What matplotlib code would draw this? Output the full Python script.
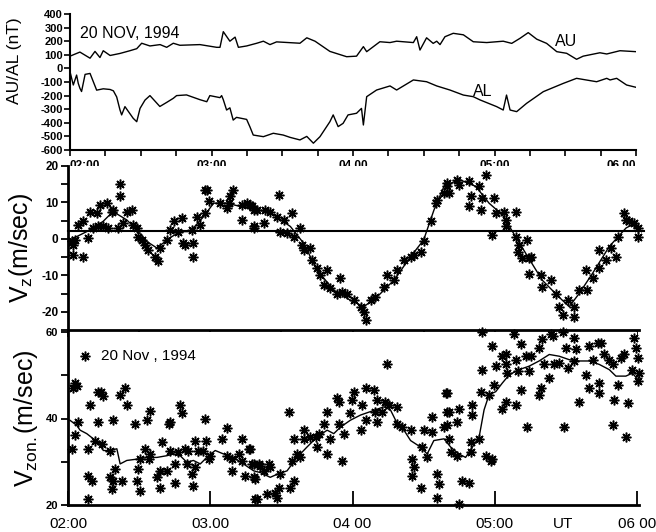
import matplotlib
matplotlib.use("Agg")
import matplotlib.pyplot as plt
from matplotlib.ticker import MultipleLocator

plt.rcParams["font.family"] = ["Liberation Sans", "DejaVu Sans"]
plt.rcParams["mathtext.fontset"] = "custom"
plt.rcParams["mathtext.rm"] = "Liberation Sans"
plt.rcParams["mathtext.it"] = "Liberation Sans:italic"
plt.rcParams["mathtext.bf"] = "Liberation Sans:bold"

# time axis: minutes after 02:00 UT
HOUR_TICKS = [0, 60, 120, 180, 240]

# ---- AU / AL (nT) ----
AU_T = [0, 4.2, 8.5, 10.6, 12.7, 14.1, 17, 21.2, 25.4, 28.3, 30.4, 33.9, 38.2, 41, 43.8, 46.6,
        55.1, 62.2, 63.6, 65, 67.8, 70, 71.4, 74.9, 79.2, 82, 84.8, 87.6, 97.5, 100.4, 103.9,
        110.2, 117.3, 121.5, 124.4, 125.8, 131.4, 135.7, 138.5, 145.6, 147, 148.4, 151.2, 154,
        155.5, 156.9, 159, 162.5, 166.8, 171, 176.7, 183.7, 187.3, 190.8, 194.3, 197.9, 202.1,
        206.4, 210.6, 214.8, 217.6, 224.7, 227.6, 233.2, 240]
AU_V = [90, 120, 75, 125, 80, 130, 95, 110, 130, 145, 185, 165, 175, 155, 185, 170,
        175, 155, 155, 270, 200, 230, 155, 165, 185, 200, 175, 195, 185, 225, 200,
        125, 86, 90, 160, 123, 196, 190, 200, 190, 233, 135, 225, 184,
        200, 175, 233, 258, 247, 196, 190, 200, 184, 221, 263, 215, 184,
        123, 111, 67, 90, 115, 106, 130, 123]

AL_T = [0, 1.4, 2.8, 3.5, 4.2, 4.9, 6.4, 8.5, 11.3, 14.1, 17, 18.4, 19.8, 21.2, 21.9, 23.3,
        26.8, 28.3, 29.7, 31.8, 33.9, 38.1, 41, 43.8, 45.2, 49.4, 55.1, 58, 59.3, 63.6, 64.3,
        65, 66.4, 67.8, 69.2, 70.6, 74.9, 76.3, 77.7, 82, 86.2, 90.4, 93.3, 97.5, 100.4,
        103.2, 106, 110.2, 111.6, 113.7, 115.8, 117.9, 121.5, 123.6, 124.4, 125.8, 130,
        135.7, 138.5, 145.6, 151.2, 155.5, 161.1, 166.8, 171, 173.9, 180.9, 183.7, 185.1,
        186.6, 189.4, 193.6, 200.7, 209.2, 214.8, 223.3, 227.6, 229, 231.8, 236, 240]
AL_V = [-24, -122, -49, -110, -146, -170, -44, -37, -160, -150, -155, -165, -210, -306, -342, -281,
        -367, -392, -294, -233, -200, -280, -250, -220, -200, -195, -230, -245, -200, -215, -200,
        -230, -306, -290, -380, -360, -375, -430, -490, -502, -477, -490, -507, -526, -500,
        -550, -502, -392, -342, -428, -404, -342, -330, -294, -416, -208, -159,
        -129, -159, -85, -98, -129, -159, -196, -208, -232, -281, -306, -196,
        -306, -318, -257, -171, -110, -73, -98, -73, -85, -73, -122, -139]

# ---- Vz (m/sec): measurements and smoothed curve ----
VZ_PTS_T = [1.5, 2.3, 3, 2.3, 4.4, 6.5, 6.5, 8.6, 9.3, 10.7, 12.1, 13.5, 12.8, 14.9, 16.3, 17,
            18.4, 19.1, 21.3, 22, 22, 23.4, 24.8, 26.9, 27.6, 29, 29.7, 31.1, 32.5, 33.9, 36.7,
            38.1, 38.9, 41.7, 43.1, 44.5, 46.6, 48, 48.7, 49.4, 52.9, 52.9, 52.2, 54.3, 55.8,
            57.9, 57.9, 59.3, 58.6, 64.2, 67, 68.4, 69.8, 67.7, 73.4, 73.4, 75.5, 77.6, 78.3,
            79.7, 76.9, 78.3, 78.3, 82.5, 83.2, 85.3, 88.9, 88.2, 89.6, 91, 92.4, 94.5, 95.2,
            98, 98.7, 99.4, 102.2, 102.9, 105.1, 106.5, 107.9, 109.3, 110.7, 113.5, 114.9,
            115.6, 117.7, 120.5, 123.4, 125.5, 124.8, 127.6, 129.7, 133.2, 134.6, 137.4,
            138.9, 141.7, 144.5, 145.9, 148.7, 150.1, 152.9, 155.3, 155.7, 158.6, 159.9,
            160, 160.7, 164.2, 164.9, 169.2, 169.9, 169.2, 173.4, 174.1, 174.8, 176.2, 179.7,
            180.4, 183.9, 184.6, 184.6, 188.9, 179, 188.9, 190.3, 193.8, 189.6, 191.7, 194.5,
            195.2, 194.5, 199.4, 200.1, 203.6, 205.8, 207.2, 208.6, 210.7, 213.5, 213.5, 215.6,
            218.4, 219.1, 221.3, 224.1, 224.1, 226.9, 229, 231.1, 231.8, 234.6, 235.3, 236.7,
            238.9, 240.3, 240.3]
VZ_PTS_V = [-0.7, -1.7, -0.3, -4.4, 3.9, 4.8, -4.9, 0.2, 7.5, 2.9, 7.1, 9.4, 3.4, 3.4, 9.8, 2.9,
            7.5, 8, 2.9, 11.7, 15.1, 4.3, 7.5, 8, 3.9, 2.9, 0.6, -0.3, -1.7, -3, -4.9,
            -6.2, -2.6, -0.3, 2.5, 4.8, 2, 5.7, -1.2, -1.7, -1.2, -5, 2.5, 6.1, 3.9,
            7.1, 13.5, 10.3, 13.5, 9.8, 8.4, 11.7, 13.5, 9.8, 5.2, 9.4, 9.8, 8.9, 3.4,
            8, 9.4, 8, 2.9, 4.3, 8, 7.5, 12.1, 6.1, 2, 5.2, 1.6, 7.1, 0.6,
            2.9, -1.7, -3, -2.6, -5.8, -8.1, -9.9, -12.7, -8.5, -13.6, -15, -10.8,
            -14.5, -15, -16.8, -18.6, -22.3, -20, -16.8, -15.9, -13.1, -9.9, -11.3,
            -8.5, -5.8, -4.9, -4.4, -3.5, -0.7, 4.8, 9.8, 10.7, 12.6, 15.3,
            14.4, 12.6, 16.2, 14.9, 15.8, 11.7, 8.9, 14.4, 8, 11.2, 17.6, 11.2,
            7.1, 7.5, 5.2, 3.4, 7.5, 1.1, 0.6, -1.7, -0.3, -3.5, -5.3, -5.3,
            -4.9, -9.5, -9.9, -13.1, -11.3, -15, -18.6, -20.9, -16.8, -18.6, -21.4, -14,
            -8.5, -14, -10.8, -3, -8.1, -5.8, -2.6, -4.9, 0.6, 7.1, 5.2, 4.8,
            4.3, 0.6, 2.9]
VZ_FIT_T = [0.8, 7.9, 14.8, 19, 24.8, 29, 33.2, 37.5, 43, 47.3, 51.5, 57.2, 61.4, 67, 72.7, 79.7,
            85.4, 93.8, 99.4, 105, 112, 119, 124.8, 130.4, 137.5, 144.5, 150, 154.4, 158.6, 165,
            172, 177.6, 183.2, 187.5, 193, 200, 207, 211.4, 215.6, 221.3, 228.3, 235.4, 238, 240.8]
VZ_FIT_V = [-0.3, 2.0, 4.8, 7.5, 5.2, 2.5, -0.7, -2.5, 0.3, 2, 2, 6.1, 9.8, 9.8, 8.9, 8,
            7.2, 3.4, -1.2, -8.5, -14, -16.8, -18.6, -15.9, -11.3, -4.9, -0.3, 8, 14.4, 16.3,
            14.4, 9.8, 6.6, 2, -3.9, -11.3, -15.9, -18.6, -15, -9.4, -2.1, 3, 3.9, 2.5]
VZ_REF = 2.2

# ---- Vzon (m/sec): measurements and smoothed curve ----
VZON_PTS_T = [7.2, 2.3, 3, 3.7, 1.5, 3, 4.4, 8.6, 10, 8.6, 8.6, 9.3, 12.7, 12.7, 14.1, 14.9,
              11.4, 14.2, 17.7, 17.7, 18.4, 19.1, 19.9, 19.1, 22, 24.1, 24.8, 22.7, 28.3, 29,
              29.7, 30.4, 30.4, 32.5, 33.2, 34.4, 34, 34.7, 37.5, 38.9, 39.6, 38.9, 41.7, 42.4,
              43.1, 43.1, 45.2, 45.2, 46.6, 47.3, 48, 49.4, 50.8, 50.1, 52.2, 52.9, 53.6, 53.6,
              55, 57.1, 57.9, 58.3, 59.3, 60, 64.9, 67, 67, 69.1, 69.1, 73.4, 72, 73.4, 74.8,
              76.2, 78.3, 79, 79.7, 80.4,
              76.9, 77.6, 78.3, 79, 81.1, 82.5, 84, 84.6, 85.3, 87.5, 88.9, 88.2, 89.6, 93.1,
              93.8, 95.2, 94.5, 95.2, 96.6, 98, 99.4, 99.4, 102.2, 104.4, 105.8, 105.1, 107.9,
              109.3, 109.3, 110.7, 113.5, 114.2, 114.2, 115.6, 116.3, 119.1, 119.8, 120.5,
              123.4, 124.1, 125.5, 125.5, 129, 130.4, 130.4, 129.7, 132.5, 134.6, 135.3, 133.9,
              138.9, 138.9, 141, 144.5, 145.2, 145.9, 145.2, 148.7, 149.4, 150.1, 151.5, 153.6,
              153.6, 155.7, 156.4, 155.7, 158.6, 159.3, 160,
              160, 160.7, 164.2, 164.9, 160.7, 161.4, 164.2, 164.9, 166.3, 169.2, 169.9, 169.9,
              170.6, 170.6, 173.4, 174.1, 174.8, 176.2, 178.3, 177.6, 179, 179.7, 180.4, 183.2,
              184.6, 184.6, 183.2, 184.6, 185.3, 188.2, 188.9, 188.9, 189.6, 191, 191, 193.1,
              193.8, 194.5, 195.2, 198.7, 199.4, 198.7, 200.1, 200.8, 203, 203.7, 204.4, 205.1,
              207.2, 208.6, 209.3, 210, 210.7, 213.5, 214.2, 213.5, 215.6, 218.4, 219.8, 219.8,
              221.3, 223.4, 224.1, 224.1, 224.8, 226.2, 228.3, 229.7, 229.7, 230.4, 231.8,
              233.2, 234.6, 235.3, 236, 238.1, 238.8, 239.6, 240.3, 240.3, 241, 160, 174.8, 179]
VZON_PTS_V = [54.4, 47, 48.2, 47.4, 33, 36.1, 39.2, 26.7, 25.6, 21.3, 33, 43.1, 39.2, 46.2, 46.2, 45.1,
              34.9, 34.1, 32.6, 26.4, 23.6, 39.6, 28.3, 25.6, 45.5, 47, 43.1, 25.6, 38.8, 25.6,
              28.3, 23.2, 30.6, 33, 39.6, 41.8, 30.6, 31.8, 26.4, 27.9, 34.5, 24, 27.9, 38.8,
              39.2, 32.6, 25.2, 29.5, 32.2, 43.1, 41.2, 33, 32.6, 29.5, 27.1, 24.4, 34.9, 28.7,
              32.6, 32.6, 40, 34.9, 30.6, 31.4, 35.3, 37.7, 31.4, 30.6, 27.9, 35.3, 31.8, 30.2, 26.7,
              33, 29.5, 26, 21.3, 29.5,
              33, 29.5, 26.4, 21.3, 29.1, 27.9, 22.5, 29.5, 28.7, 22.8, 24, 21.7, 27.1, 41.6,
              24, 25.6, 30.2, 35.3, 31.8, 31, 35.3, 37.3, 35.7, 35.7, 36.5, 33.4, 38.8,
              31.8, 41.6, 35.3, 44.7, 43.9, 38.8, 30.2, 36.5, 41.2, 44.3, 46.2,
              37.3, 43.1, 39.6, 47, 46.6, 44.3, 39.2, 41.6, 41.6, 52.5, 43.1, 43.9,
              42.7, 38.8, 38, 37.3, 30.6, 28.7, 26.7, 24, 33.4, 37.3, 31, 40.4,
              36.9, 27.1, 24.8, 21.7, 38, 45.9, 41.6,
              45.9, 41.6, 39.2, 42.3, 35.3, 32.2, 31.4, 20.2, 25.6, 25.2, 32.2, 34.5,
              40.8, 43.1, 35.3, 46.2, 51.3, 31.4, 30.2, 45.5, 56.8, 47.8, 52.1, 54.4,
              54.8, 52.5, 42.3, 43.9, 50.5, 59.5, 43.1, 53.6, 50.9, 57.2, 46.6, 54.4,
              38, 50.9, 54.4, 45.5, 47, 56.4, 58.3, 52.5, 49.4, 59.5, 59.1, 52.5,
              52.9, 60, 38, 56.4, 51.7, 58.7, 56, 53.3, 43.9, 50.1, 47, 56.8,
              53.6, 57.5, 48.2, 45.9, 57.5, 54.8, 53.6, 52.5, 38.4, 44.3, 47.8,
              54, 54.8, 35.7, 43.5, 51.3, 58.7, 56.4, 54, 48.6, 50.5, 38.4, 60, 30.6]
VZON_FIT_T = [0.8, 3.7, 5.1, 7.9, 10.7, 12.8, 14.9, 17.7, 20.6, 22, 24.8, 29, 33.2, 37.5, 41.7,
              44.5, 47.3, 50.1, 52.9, 55.8, 59.3, 62.1, 65.6, 69.8, 74, 78.3, 81.1, 85.3, 88.2,
              92.4, 96.6, 100.8, 105, 109.3, 112.1, 114.9, 119.1, 123.4, 127.6, 133.2, 136,
              138.9, 141.7, 144.5, 148.7, 151.5, 154.3, 158.6, 161.4, 164.9, 167.7, 170.6,
              173.4, 175.5, 177.6, 180.4, 183.2, 186.1, 190.3, 194.5, 198.7, 203, 207.2, 211.4,
              215.6, 219.8, 224.1, 228.3, 231.1, 235.3, 238.1, 240.9]
VZON_FIT_V = [39.6, 38.4, 37.3, 36.5, 35.3, 34.5, 32.6, 32.6, 33, 29.5, 30.3, 30.6, 31, 31, 31.4,
              31.8, 31.4, 29.9, 30.3, 29.5, 31.4, 32.6, 31.8, 31, 29.5, 27.9, 27.5, 26.4, 27.1,
              27.9, 31, 33.4, 35.7, 37.3, 36.5, 38, 39.6, 40.8, 41.6, 42.7, 42,
              38.8, 37.3, 34.9, 33.4, 31.8, 34.9, 35.3, 33.4, 31.8, 31, 33.4,
              35.7, 42, 45.5, 46.2, 48.2, 50.1, 51.3, 52.1, 53.3, 54.8, 54.4, 53.6,
              53.3, 53.3, 52.5, 51.3, 49.8, 49.8, 50.5, 48.6]

TOP_XLABELS = ["02:00", "03:00", "04.00", "05:00", "06.00"]
TOP_XALIGN = ["left", "center", "center", "center", "right"]
BOT_XLABELS = ["02:00", "03.00", "04 00", "05:00", "06 00"]

W, H = 656, 532
STAR = dict(marker=(8, 2, 0), ms=7, mew=1.1, color="black", ls="none", clip_on=False)


def ax_px(fig, x0, y0, x1, y1):
    # axes box from pixel coords (top-left origin)
    return fig.add_axes([x0 / W, 1 - y1 / H, (x1 - x0) / W, (y1 - y0) / H])


fig = plt.figure(figsize=(W / 100, H / 100), dpi=100)

# ---------------- panel 1: AU / AL ----------------
ax1 = ax_px(fig, 70, 14, 636, 150)
ax1.plot(AU_T, AU_V, color="black", lw=1.0)
ax1.plot(AL_T, AL_V, color="black", lw=1.0)
ax1.set_xlim(0, 240)
ax1.set_ylim(-600, 400)
ax1.set_yticks(range(-600, 401, 100))
ax1.set_yticklabels([str(v) for v in range(-600, 401, 100)], fontsize=8, fontweight="bold")
ax1.xaxis.set_minor_locator(MultipleLocator(15))
ax1.set_xticks(HOUR_TICKS)
ax1.set_xticklabels(TOP_XLABELS, fontsize=8.5, fontweight="bold")
for lab, ha in zip(ax1.get_xticklabels(), TOP_XALIGN):
    lab.set_horizontalalignment(ha)
ax1.tick_params(axis="both", which="both", direction="out", length=4, width=1.2, pad=1)
ax1.tick_params(axis="x", pad=3)
for s in ("top", "right"):
    ax1.spines[s].set_visible(False)
for s in ("left", "bottom"):
    ax1.spines[s].set_linewidth(1.5)
ax1.set_ylabel("AU/AL (nT)", fontsize=12.5)
ax1.yaxis.set_label_coords(-0.085, 0.66)
ax1.text(0.017, 0.86, "20 NOV, 1994", transform=ax1.transAxes, fontsize=11.5, va="center")
ax1.text(0.857, 0.8, "AU", transform=ax1.transAxes, fontsize=11.5, va="center")
ax1.text(0.712, 0.43, "AL", transform=ax1.transAxes, fontsize=11.5, va="center")

# ---------------- panel 2: Vz ----------------
ax2 = ax_px(fig, 68, 166, 637, 330)
ax2.plot(VZ_PTS_T, VZ_PTS_V, **STAR)
ax2.plot(VZ_FIT_T, VZ_FIT_V, color="black", lw=1.0, clip_on=False)
ax2.plot([0, 243], [VZ_REF, VZ_REF], color="black", lw=1.5, clip_on=False)
ax2.set_xlim(0, 240)
ax2.set_ylim(-25, 20)
ax2.set_yticks([-20, -10, 0, 10, 20])
ax2.set_yticklabels(["-20", "-10", "0", "10", "20"], fontsize=8.5, fontweight="bold")
ax2.yaxis.set_minor_locator(MultipleLocator(5))
ax2.set_xticks(range(0, 241, 30))
ax2.set_xticklabels([])
ax2.tick_params(axis="both", which="both", direction="out", length=5, width=1.3, pad=2)
for s in ("top", "right"):
    ax2.spines[s].set_visible(False)
for s in ("left", "bottom"):
    ax2.spines[s].set_linewidth(2)
ax2.spines["bottom"].set_bounds(0, 241)
ax2.set_ylabel(r"V$_\mathrm{z}$(m/sec)", fontsize=18, labelpad=4)

# ---------------- panel 3: Vzon ----------------
ax3 = ax_px(fig, 68, 332, 637, 505)
ax3.plot(VZON_PTS_T, VZON_PTS_V, **STAR)
ax3.plot(VZON_FIT_T, VZON_FIT_V, color="black", lw=1.0, clip_on=False)
ax3.set_xlim(0, 240)
ax3.set_ylim(20, 60)
ax3.set_yticks([20, 40, 60])
ax3.set_yticklabels(["20", "40", "60"], fontsize=8, fontweight="bold")
ax3.yaxis.set_minor_locator(MultipleLocator(10))
ax3.tick_params(axis="y", which="both", direction="out", length=5, width=1.3, pad=2)
ax3.set_xticks(HOUR_TICKS)
ax3.set_xticklabels(BOT_XLABELS, fontsize=11)
ax3.tick_params(axis="x", direction="in", length=10, width=1.3, pad=9)
for s in ("top", "right"):
    ax3.spines[s].set_visible(False)
for s in ("left", "bottom"):
    ax3.spines[s].set_linewidth(2)
ax3.spines["bottom"].set_bounds(0, 241)
ax3.set_ylabel(r"V$_\mathrm{zon.}$(m/sec)", fontsize=18, labelpad=4)
ax3.text(0.058, 0.86, "20 Nov , 1994", transform=ax3.transAxes, fontsize=11, va="center")
ax3.text(0.87, -0.11, "UT", transform=ax3.transAxes, fontsize=11, va="center", ha="center")

fig.savefig("out.png", dpi=100)
